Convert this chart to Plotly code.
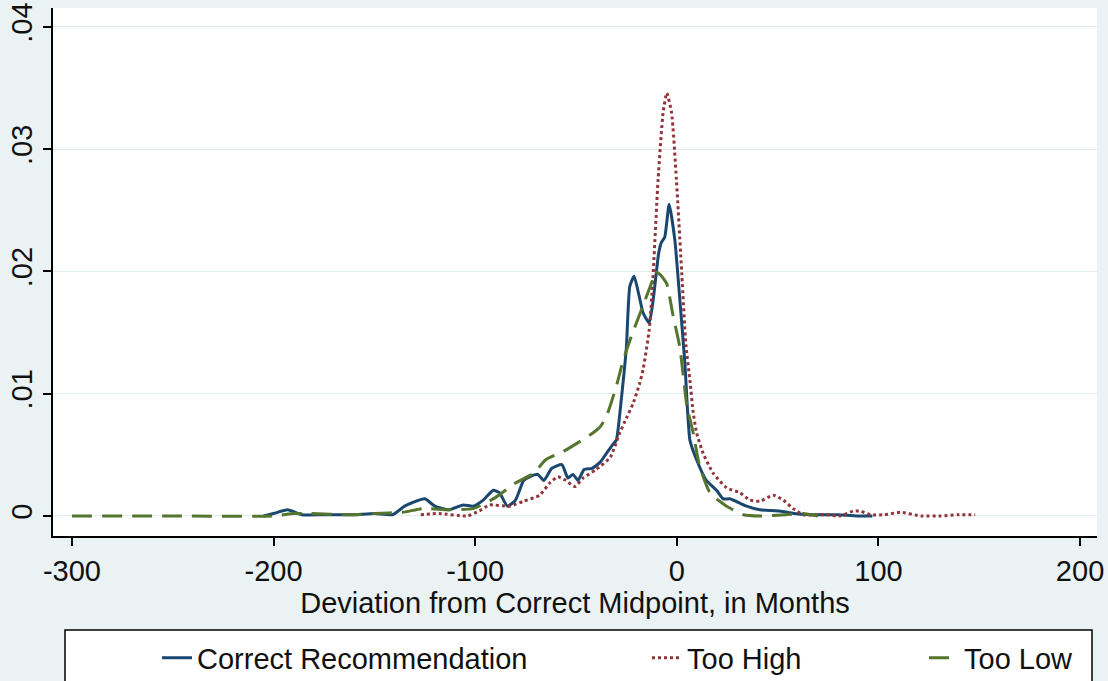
import plotly.graph_objects as go

# Correct Recommendation (navy, solid)
correct_x = [-205, -200, -193, -186, -175, -160, -150, -141, -135, -131, -125, -120, -113, -106, -101,
             -96, -91, -88, -84, -80, -76, -73, -69, -66, -62, -57, -54, -51.5, -49, -46, -42, -38,
             -35, -32, -30, -28, -26, -25, -23.3, -21.2, -18.7, -16.7, -13.7, -11.7, -9, -7.6, -6,
             -3.8, -1, 1.5, 4, 6.5, 9.8, 14.7, 19.7, 23, 26.3, 34.6, 41.2, 51, 58, 66, 80, 91, 97]
correct_y = [0.0, 0.0002, 0.0005, 0.0001, 0.0001, 0.0001, 0.0002, 0.0001, 0.0008, 0.0011, 0.0014,
             0.0008, 0.0005, 0.0009, 0.0008, 0.0013, 0.0021, 0.0019, 0.0008, 0.0013, 0.0029, 0.0032,
             0.0034, 0.0029, 0.0039, 0.0042, 0.0031, 0.0034, 0.0029, 0.0038, 0.0039, 0.0044, 0.0051,
             0.0058, 0.0062, 0.0088, 0.0120, 0.0138, 0.0188, 0.0196, 0.0180, 0.0166, 0.0158, 0.0177,
             0.0215, 0.0224, 0.0228, 0.0255, 0.0226, 0.0177, 0.0125, 0.0062, 0.0046, 0.0029, 0.0021,
             0.0014, 0.0014, 0.0008, 0.0005, 0.0004, 0.0002, 0.0001, 0.0001, 0.0, 0.0]

# Too High (maroon, dotted)
high_x = [-127, -118, -104, -98, -93, -83, -76, -68, -63, -59, -55, -50.6, -46.5, -40, -33, -28.3,
          -25, -21.7, -18.5, -16.7, -13.7, -11.9, -9.3, -6.8, -5, -2.6, -0.2, 2.5, 4.5, 6.5, 8.1,
          9.8, 13.1, 18, 24.7, 31.3, 36.2, 41.2, 47.8, 52.8, 57.7, 62.7, 74, 81, 87.5, 91, 96, 103,
          111, 121, 131, 140, 148]
high_y = [0.0001, 0.0002, 0.0, 0.0004, 0.0009, 0.0008, 0.0012, 0.0017, 0.0027, 0.0032, 0.0029,
          0.0024, 0.0031, 0.0038, 0.0048, 0.0068, 0.0080, 0.0092, 0.0108, 0.0120, 0.0152, 0.0193,
          0.0275, 0.0330, 0.0346, 0.0330, 0.0275, 0.0197, 0.0140, 0.0111, 0.0085, 0.0068, 0.0051,
          0.0035, 0.0023, 0.0019, 0.0013, 0.0012, 0.0017, 0.0013, 0.0006, 0.0001, 0.0001, 0.0,
          0.0004, 0.0004, 0.0001, 0.0001, 0.0003, 0.0, 0.0, 0.0001, 0.0001]

# Too Low (green, dashed)
low_x = [-300, -250, -200, -190, -182, -162, -150, -136, -126, -113, -101, -90, -80, -71, -65, -56,
         -48, -41.5, -38, -35, -30, -27, -23, -17, -12, -10.9, -8, -5, -2, 1.5, 5, 8.1, 11.4, 16.4,
         21.3, 24.7, 33, 41.2, 54, 62.7, 70]
low_y = [0.0, 0.0, 0.0, 0.0002, 0.0002, 0.0001, 0.0002, 0.0003, 0.0006, 0.0005, 0.0006, 0.0015,
         0.0027, 0.0035, 0.0046, 0.0053, 0.0061, 0.0068, 0.0073, 0.0081, 0.0106, 0.0125, 0.0145,
         0.0171, 0.0193, 0.0200, 0.0197, 0.0190, 0.0165, 0.0138, 0.0090, 0.0068, 0.0040, 0.0019,
         0.0012, 0.0008, 0.0001, 0.0, 0.0001, 0.0002, 0.0]

x_ticks = [-300, -200, -100, 0, 100, 200]
x_ticktext = ["-300", "-200", "-100", "0", "100", "200"]
y_ticks = [0, 0.01, 0.02, 0.03, 0.04]
y_ticktext = ["0", ".01", ".02", ".03", ".04"]

NAVY = "#1A476F"
MAROON = "#90353B"
GREEN = "#55752F"
BG = "#EAF2F3"
GRID = "#E3ECEE"
FONT = "Liberation Sans, Arial, sans-serif"
FS = 29

fig = go.Figure()
fig.add_trace(go.Scatter(x=correct_x, y=correct_y, mode="lines", name="Correct Recommendation",
                         line=dict(color=NAVY, width=3, shape="spline", smoothing=0.5),
                         legend="legend", showlegend=True))
fig.add_trace(go.Scatter(x=high_x, y=high_y, mode="lines", name="Too High",
                         line=dict(color=MAROON, width=3, dash="dot", shape="spline", smoothing=0.5),
                         legend="legend2", showlegend=True))
fig.add_trace(go.Scatter(x=low_x, y=low_y, mode="lines", name="Too Low",
                         line=dict(color=GREEN, width=3, dash="20px,10px", shape="spline", smoothing=0.5),
                         legend="legend3", showlegend=True))

W, H = 1108, 681
leg_common = dict(orientation="h", xref="container", yref="container", yanchor="middle",
                  y=1 - 658 / H, xanchor="left", bgcolor="rgba(0,0,0,0)",
                  font=dict(family=FONT, size=FS, color="#111"))

fig.update_layout(
    width=W, height=H,
    showlegend=True,
    margin=dict(l=53, r=11, t=8, b=145, autoexpand=False),
    paper_bgcolor=BG, plot_bgcolor="white",
    font=dict(family=FONT, size=FS, color="#111"),
    legend=dict(**leg_common, x=157 / W),
    legend2=dict(**leg_common, x=647 / W),
    legend3=dict(**leg_common, x=924 / W),
    xaxis=dict(range=[-309.4, 208.4], tickvals=x_ticks, ticktext=x_ticktext, showgrid=False,
               zeroline=False, automargin=False,
               showline=True, linecolor="black", linewidth=1.5, ticks="outside", ticklen=8,
               tickcolor="black", tickwidth=1.5, tickfont=dict(size=FS),
               title=dict(text="Deviation from Correct Midpoint, in Months", standoff=0,
                          font=dict(size=FS))),
    yaxis=dict(range=[-0.00164, 0.04155], tickvals=y_ticks, ticktext=y_ticktext, tickangle=-90,
               showgrid=True, gridcolor=GRID, gridwidth=1.2, zeroline=False, showline=True,
               automargin=False,
               linecolor="black", linewidth=1.5, ticks="outside", ticklen=8, tickcolor="black",
               tickwidth=1.5, tickfont=dict(size=FS)),
    shapes=[dict(type="rect", xref="paper", yref="paper",
                 x0=(65 - 53) / 1044, x1=(1092 - 53) / 1044,
                 y0=-(700 - 536) / 528, y1=-(630 - 536) / 528,
                 line=dict(color="black", width=1.5), fillcolor="white", layer="below")],
)

fig.write_html("out.html", config={"displayModeBar": False},
               post_script="document.body.style.margin='0';document.body.style.overflow='hidden';window.dispatchEvent(new Event('resize'));")
